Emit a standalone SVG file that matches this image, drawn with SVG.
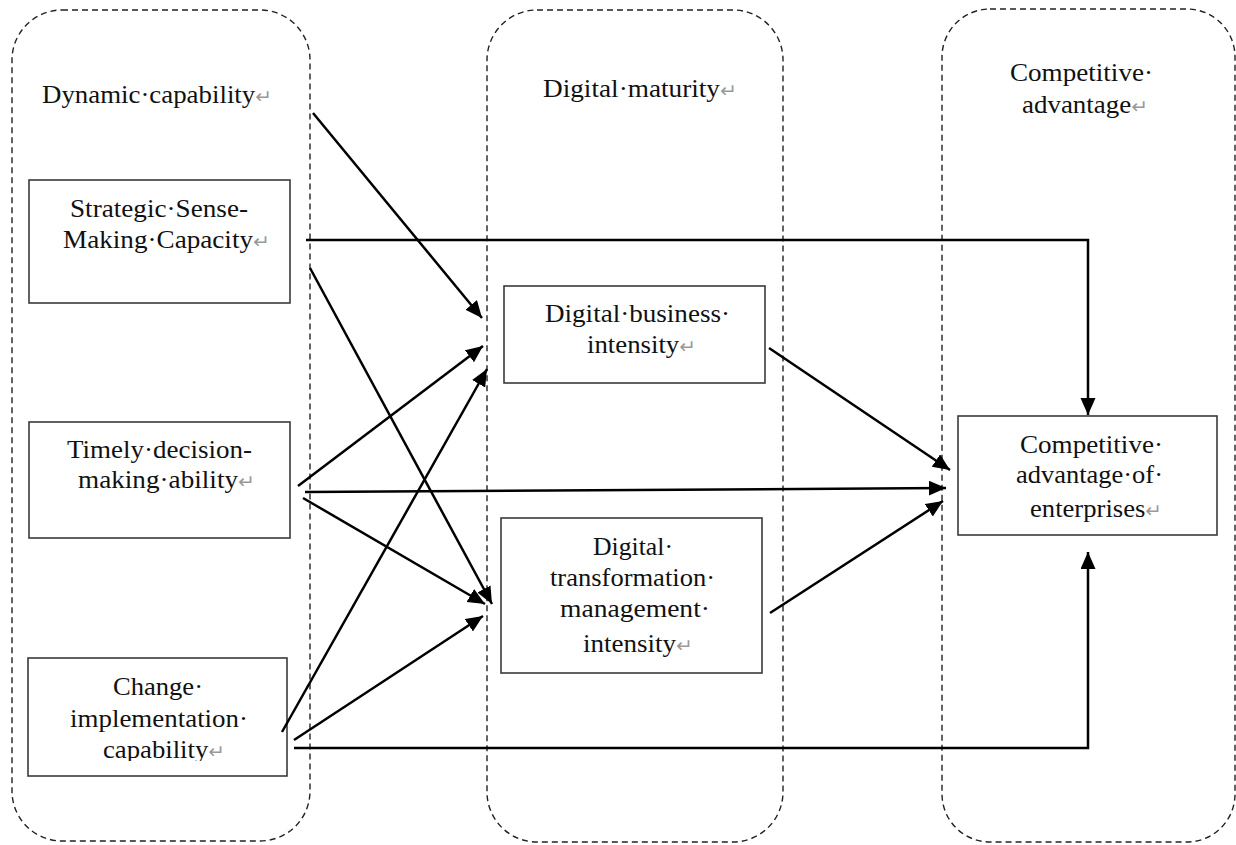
<svg xmlns="http://www.w3.org/2000/svg" width="1236" height="845" viewBox="0 0 1236 845">
<style>
.grp{fill:none;stroke:#222;stroke-width:1.4;stroke-dasharray:6,4}
.box{fill:#fff;stroke:#3a3a3a;stroke-width:1.6}
.t{font-family:"Liberation Serif","Times New Roman",serif;font-size:25.5px;fill:#111}
.m{fill:#999;font-family:"DejaVu Sans","Liberation Serif",sans-serif;font-size:19px}
.c{fill:none;stroke:#000;stroke-width:2.5}
</style>
<defs>
<marker id="ah" markerUnits="userSpaceOnUse" markerWidth="20" markerHeight="16" refX="17" refY="7.5" orient="auto">
<path d="M0,0 L17,7.5 L0,15 z" fill="#000"/>
</marker>
<clipPath id="clipChange"><rect x="28" y="658" width="259" height="103"/></clipPath>
</defs>
<rect width="1236" height="845" fill="#fff"/>

<g id="group-dynamic">
<rect class="grp" x="12" y="10" width="298" height="831" rx="50"/>
<text class="t" x="42" y="103" textLength="230" lengthAdjust="spacingAndGlyphs">Dynamic·capability<tspan class="m">↵</tspan></text>
</g>
<g id="group-digital">
<rect class="grp" x="487" y="10" width="296" height="832" rx="50"/>
<text class="t" x="543" y="97" textLength="194" lengthAdjust="spacingAndGlyphs">Digital·maturity<tspan class="m">↵</tspan></text>
</g>
<g id="group-competitive">
<rect class="grp" x="942" y="9" width="293" height="833" rx="48"/>
<text class="t" x="1010" y="81" textLength="143" lengthAdjust="spacingAndGlyphs">Competitive·</text>
<text class="t" x="1022" y="113" textLength="126" lengthAdjust="spacingAndGlyphs">advantage<tspan class="m">↵</tspan></text>
</g>

<g id="node-strategic">
<rect class="box" x="29" y="180" width="261" height="123"/>
<text class="t" x="70" y="217" textLength="178" lengthAdjust="spacingAndGlyphs">Strategic·Sense-</text>
<text class="t" x="63" y="248" textLength="207" lengthAdjust="spacingAndGlyphs">Making·Capacity<tspan class="m">↵</tspan></text>
</g>
<g id="node-timely">
<rect class="box" x="29" y="422" width="261" height="116"/>
<text class="t" x="67" y="458" textLength="185" lengthAdjust="spacingAndGlyphs">Timely·decision-</text>
<text class="t" x="78" y="488" textLength="177" lengthAdjust="spacingAndGlyphs">making·ability<tspan class="m">↵</tspan></text>
</g>
<g id="node-change">
<rect class="box" x="28" y="658" width="259" height="118"/>
<g clip-path="url(#clipChange)">
<text class="t" x="113" y="695" textLength="90" lengthAdjust="spacingAndGlyphs">Change·</text>
<text class="t" x="70" y="727" textLength="178" lengthAdjust="spacingAndGlyphs">implementation·</text>
<text class="t" x="103" y="758" textLength="122" lengthAdjust="spacingAndGlyphs">capability<tspan class="m">↵</tspan></text>
</g>
</g>
<g id="node-business">
<rect class="box" x="504" y="286" width="261" height="97"/>
<text class="t" x="545" y="322" textLength="185" lengthAdjust="spacingAndGlyphs">Digital·business·</text>
<text class="t" x="587" y="353" textLength="109" lengthAdjust="spacingAndGlyphs">intensity<tspan class="m">↵</tspan></text>
</g>
<g id="node-transformation">
<rect class="box" x="501" y="518" width="261" height="155"/>
<text class="t" x="593" y="555" textLength="80" lengthAdjust="spacingAndGlyphs">Digital·</text>
<text class="t" x="550" y="586" textLength="165" lengthAdjust="spacingAndGlyphs">transformation·</text>
<text class="t" x="560" y="617" textLength="150" lengthAdjust="spacingAndGlyphs">management·</text>
<text class="t" x="583" y="652" textLength="110" lengthAdjust="spacingAndGlyphs">intensity<tspan class="m">↵</tspan></text>
</g>
<g id="node-advantage">
<rect class="box" x="958" y="416" width="259" height="119"/>
<text class="t" x="1020" y="453" textLength="143" lengthAdjust="spacingAndGlyphs">Competitive·</text>
<text class="t" x="1016" y="483" textLength="147" lengthAdjust="spacingAndGlyphs">advantage·of·</text>
<text class="t" x="1030" y="517" textLength="132" lengthAdjust="spacingAndGlyphs">enterprises<tspan class="m">↵</tspan></text>
</g>

<g id="connectors">
<line class="c" x1="313" y1="113" x2="482" y2="318" marker-end="url(#ah)"/>
<polyline class="c" points="306,240 1088,240 1088,415" marker-end="url(#ah)"/>
<line class="c" x1="310" y1="268" x2="492" y2="604" marker-end="url(#ah)"/>
<line class="c" x1="298" y1="486" x2="483" y2="346" marker-end="url(#ah)"/>
<line class="c" x1="305" y1="492" x2="946" y2="488" marker-end="url(#ah)"/>
<line class="c" x1="303" y1="498" x2="485" y2="604" marker-end="url(#ah)"/>
<line class="c" x1="282" y1="732" x2="487" y2="369" marker-end="url(#ah)"/>
<line class="c" x1="294" y1="740" x2="483" y2="616" marker-end="url(#ah)"/>
<polyline class="c" points="294,748 1088,748 1088,552" marker-end="url(#ah)"/>
<line class="c" x1="769" y1="348" x2="950" y2="470" marker-end="url(#ah)"/>
<line class="c" x1="770" y1="613" x2="943" y2="501" marker-end="url(#ah)"/>
</g>
</svg>
